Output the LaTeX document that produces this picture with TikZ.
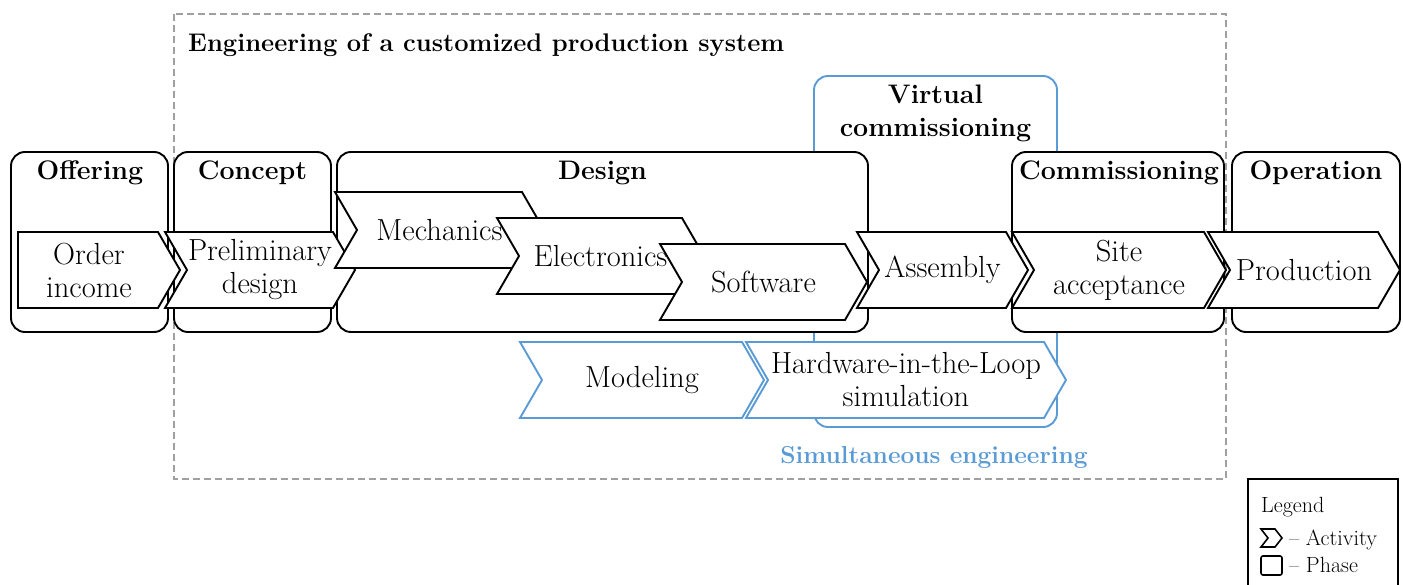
\documentclass[tikz,border=0pt]{standalone}
\usepackage{fontspec}
\definecolor{vcblue}{RGB}{91,155,213}
\definecolor{framegray}{RGB}{160,160,160}

\tikzset{
  phasebox/.style={draw=black, fill=white, line width=1.9pt, rounded corners=14pt},
  actshape/.style={draw=black, fill=white, line width=1.9pt, line join=miter},
  simshape/.style={draw=vcblue, fill=white, line width=1.9pt, line join=miter},
  bodytext/.style={font=\fontsize{30.5}{33}\selectfont, align=center, inner sep=0pt},
  headtext/.style={font=\bfseries\fontsize{26.8}{33}\selectfont, align=center, inner sep=0pt},
  legtext/.style={font=\fontsize{22}{24}\selectfont, inner sep=0pt, anchor=west},
}

% activity chevron: style, node name, left x, corner x, centre y, text
\newcommand\activity[6]{%
  \draw[#1] (#3,#5-38) -- (#4,#5-38) -- (#4+22,#5) -- (#4,#5+38)
            -- (#3,#5+38) -- (#3+22,#5) -- cycle;
  \node[bodytext] (#2) at ({(#3+22+#4)/2},#5) {#6};}

\begin{document}
\begin{tikzpicture}[x=1pt, y=-1pt]
  \clip (0,0) rectangle (1403,585);

  % overall engineering frame
  \draw[framegray, line width=1.7pt, dash pattern=on 7pt off 4pt]
    (174,14) rectangle (1226,479);
  \node[headtext, font=\bfseries\fontsize{25.5}{30}\selectfont, anchor=west]
    (title) at (188,45) {Engineering of a customized production system};

  % virtual commissioning phase
  \draw[draw=vcblue, fill=white, line width=1.9pt, rounded corners=14pt]
    (814,76) rectangle (1057,427);
  \node[headtext] (vc) at (935.5,113) {Virtual\\commissioning};

  % phases
  \draw[phasebox] (11,152) rectangle (168,332);
  \draw[phasebox] (174,152) rectangle (331,332);
  \draw[phasebox] (337,152) rectangle (868,332);
  \draw[phasebox] (1012,152) rectangle (1224,332);
  \draw[phasebox] (1232,152) rectangle (1400,332);
  \node[headtext] (offering) at (90,173) {Offering};
  \node[headtext] (concept) at (252.5,173) {Concept};
  \node[headtext] (design) at (602.5,173) {Design};
  \node[headtext] (commissioning) at (1119,173) {Commissioning};
  \node[headtext] (operation) at (1316,173) {Operation};

  % activities
  \draw[actshape] (18,232) -- (158,232) -- (180,270) -- (158,308) -- (18,308) -- cycle;
  \node[bodytext] (order) at (89,270) {Order\\income};
  \activity{actshape}{prelim}{165}{333}{270}{Preliminary\\design}
  \activity{actshape}{mech}{335}{522}{230}{Mechanics}
  \activity{actshape}{elec}{497}{682}{256}{Electronics}
  \activity{actshape}{soft}{660}{845}{282}{Software}
  \activity{actshape}{asm}{857}{1006}{270}{Assembly}
  \activity{actshape}{site}{1012}{1204}{270}{Site\\acceptance}
  \activity{actshape}{prod}{1208}{1378}{270}{Production}

  % simultaneous engineering activities
  \activity{simshape}{model}{520}{742}{380}{Modeling}
  \activity{simshape}{hil}{746}{1044}{380}{Hardware-in-the-Loop\\simulation}
  \node[headtext, text=vcblue, font=\bfseries\fontsize{24.5}{30}\selectfont]
    (simeng) at (934,457) {Simultaneous engineering};

  % legend
  \draw[line width=1.9pt] (1248,479) rectangle (1398,600);
  \node[legtext] (legend) at (1261,507) {Legend};
  \draw[line width=1.6pt, line join=miter] (1261,529) -- (1275,529) -- (1282,538)
    -- (1275,547) -- (1261,547) -- (1268,538) -- cycle;
  \node[legtext] (legact) at (1289,540) {-- Activity};
  \draw[line width=1.6pt, rounded corners=2pt] (1261,556) rectangle (1282,575);
  \node[legtext] (legphase) at (1289,565) {-- Phase};
\end{tikzpicture}
\end{document}
